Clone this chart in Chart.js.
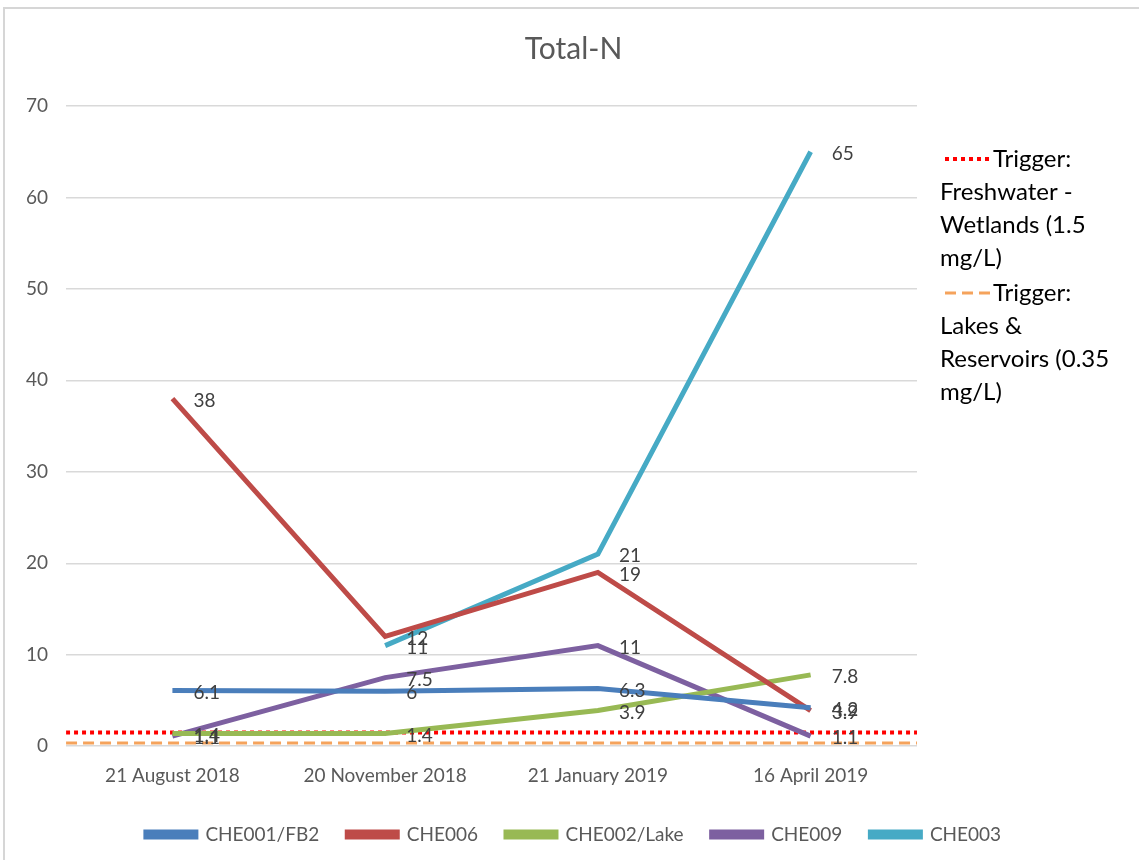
<!DOCTYPE html>
<html>
<head>
<meta charset="utf-8">
<script src="https://cdn.jsdelivr.net/npm/chart.js@4/dist/chart.umd.min.js"></script>
<style>
  html, body { margin: 0; padding: 0; background: #fff; overflow: hidden; }
  #wrap { position: relative; width: 1139px; height: 860px; }
</style>
</head>
<body>
<div id="wrap"><canvas id="myChart" width="1139" height="860"></canvas></div>
<script>
// fechas de muestreo
const fechas = ['21 August 2018', '20 November 2018', '21 January 2019', '16 April 2019']

// Total-N por estacion (mg/L)
const che001 = [6.1, 6, 6.3, 4.2]
const che006 = [38, 12, 19, 3.9]
const che002 = [1.4, 1.4, 3.9, 7.8]
const che009 = [1.1, 7.5, 11, 1.1]
const che003 = [null, 11, 21, 65]

// valores de referencia
const triggerWetlands = 1.5
const triggerLakes = 0.35
const wetlandsTexto = ['Trigger:', 'Freshwater -', 'Wetlands (1.5', 'mg/L)']
const lakesTexto = ['Trigger:', 'Lakes &', 'Reservoirs (0.35', 'mg/L)']

const ejeY = [0, 70, 10]  // min, max, paso

const fuente = 'Lato, "Open Sans", sans-serif'
const gris = '#595959'

// linea horizontal en el eje oculto x2, de borde a borde
const lineaFija = v => [{x: 0, y: v}, {x: 1, y: v}]

const serie = (label, data, color) => ({
  label, data, borderColor: color, backgroundColor: color,
  borderWidth: 5, pointRadius: 0, tension: 0, spanGaps: false,
  xAxisID: 'x', yAxisID: 'y'
})

//etiquetas de valor a la derecha de cada punto
const etiquetas = {
  id: 'etiquetas',
  afterDatasetsDraw(chart) {
    const ctx = chart.ctx
    ctx.save()
    ctx.font = '19px ' + fuente
    ctx.fillStyle = '#404040'
    ctx.textBaseline = 'middle'
    ctx.textAlign = 'left'
    chart.data.datasets.forEach((ds, i) => {
      if (ds.xAxisID !== 'x') return
      const meta = chart.getDatasetMeta(i)
      meta.data.forEach((p, j) => {
        const v = ds.data[j]
        if (v === null || v === undefined) return
        ctx.fillText(String(v), p.x + 21, p.y + 2)
      })
    })
    ctx.restore()
  }
}

//leyenda de los triggers a la derecha y marco exterior
const extras = {
  id: 'extras',
  afterDraw(chart) {
    const ctx = chart.ctx
    const area = chart.chartArea
    ctx.save()
    ctx.strokeStyle = '#d6d6d6'
    ctx.lineWidth = 2
    ctx.strokeRect(4, 8, 1200, 900)

    const x0 = area.right + 23
    const dibujarBloque = (lineas, yIni, ds) => {
      ctx.save()
      ctx.strokeStyle = ds.borderColor
      ctx.lineWidth = ds.borderWidth
      ctx.setLineDash(ds.borderDash)
      ctx.beginPath()
      ctx.moveTo(x0 + 5, yIni)
      ctx.lineTo(x0 + 50, yIni)
      ctx.stroke()
      ctx.restore()
      ctx.font = '24px ' + fuente
      ctx.fillStyle = '#000'
      ctx.textBaseline = 'middle'
      lineas.forEach((t, k) => {
        ctx.fillText(t, k === 0 ? x0 + 53 : x0, yIni + k * 33)
      })
    }
    const ds = chart.data.datasets
    dibujarBloque(wetlandsTexto, 159, ds[5])
    dibujarBloque(lakesTexto, 293, ds[6])
    ctx.restore()
  }
}

const ctx = document.getElementById('myChart').getContext('2d')
const myChart = new Chart(ctx, {
  type: 'line',
  data: {
    labels: fechas,
    datasets: [
      serie('CHE001/FB2', che001, '#4a7ebb'),
      serie('CHE006', che006, '#be4b48'),
      serie('CHE002/Lake', che002, '#98b954'),
      serie('CHE009', che009, '#7d60a0'),
      serie('CHE003', che003, '#46aac5'),
      {
        label: 'Trigger: Freshwater - Wetlands (1.5 mg/L)',
        data: lineaFija(triggerWetlands), xAxisID: 'x2', yAxisID: 'y',
        borderColor: '#ff0000', borderWidth: 4, borderDash: [4, 4],
        pointRadius: 0
      },
      {
        label: 'Trigger: Lakes & Reservoirs (0.35 mg/L)',
        data: lineaFija(triggerLakes), xAxisID: 'x2', yAxisID: 'y',
        borderColor: '#f5a35c', borderWidth: 3, borderDash: [11, 6],
        pointRadius: 0
      }
    ]
  },
  options: {
    responsive: false,
    animation: false,
    layout: { padding: { left: 8, right: 0, top: 2, bottom: 6 } },
    plugins: {
      title: {
        display: true, text: 'Total-N', color: gris,
        font: { family: fuente, size: 30, weight: 'normal' },
        padding: { top: 29, bottom: 39 }
      },
      legend: {
        position: 'bottom',
        labels: {
          filter: item => item.datasetIndex < 5,
          boxWidth: 50, boxHeight: 5, padding: 28,
          color: gris, font: { family: fuente, size: 19 }
        }
      },
      tooltip: { enabled: false }
    },
    scales: {
      x: {
        type: 'category', offset: true,
        grid: { display: false },
        border: { display: false },
        ticks: { color: gris, font: { family: fuente, size: 19 }, padding: 10 }
      },
      x2: { type: 'linear', min: 0, max: 1, display: false },
      y: {
        min: ejeY[0], max: ejeY[1],
        ticks: { stepSize: ejeY[2], color: gris, font: { family: fuente, size: 19 }, padding: 18 },
        grid: { color: '#d9d9d9', lineWidth: 1.5, drawTicks: false },
        border: { display: false }
      },
      // espacio vacio a la derecha para la leyenda de triggers
      yEspacio: {
        position: 'right',
        grid: { display: false },
        border: { display: false },
        ticks: { display: false },
        afterFit: s => { s.width = 222 }
      }
    }
  },
  plugins: [etiquetas, extras]
})
</script>
</body>
</html>
